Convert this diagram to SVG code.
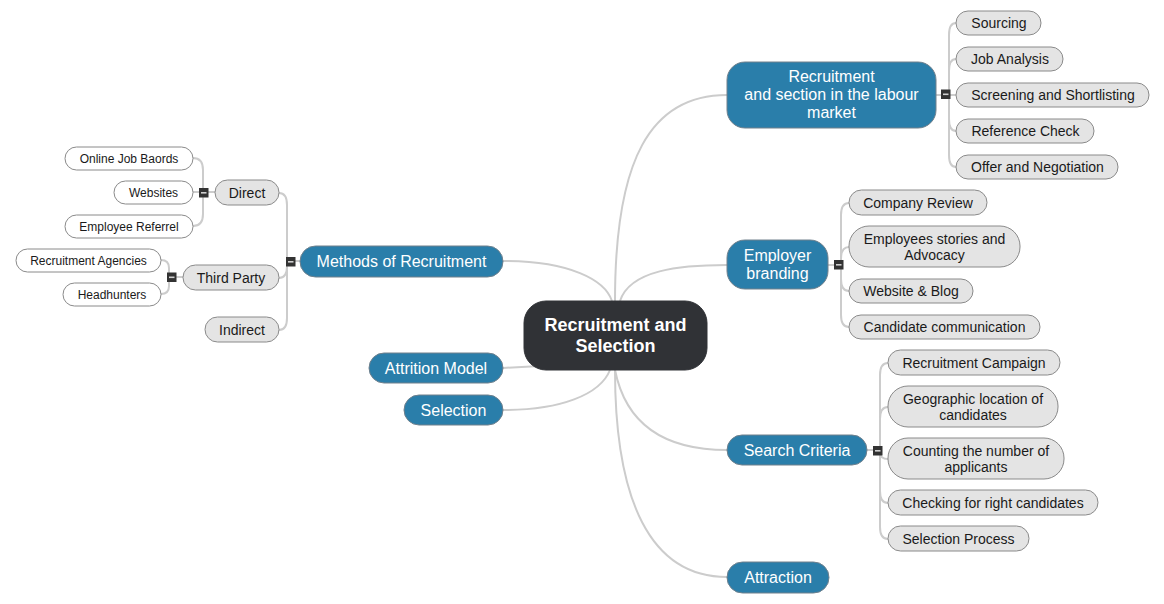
<svg xmlns="http://www.w3.org/2000/svg" width="1164" height="604" viewBox="0 0 1164 604">
<style>
.c{fill:none;stroke:#cccccc;stroke-width:2}
.root rect{fill:#303236;stroke:#303236}
.root text{fill:#fff;font:bold 18px "Liberation Sans",Arial,sans-serif;text-anchor:middle}
.main rect{fill:#2a7eaa;stroke:#70808c;stroke-width:1}
.main text{fill:#fff;font:16px "Liberation Sans",Arial,sans-serif;text-anchor:middle}
.sub rect{fill:#e4e4e4;stroke:#8a8a8a;stroke-width:1}
.sub text{fill:#1a1a1a;font:14px "Liberation Sans",Arial,sans-serif;text-anchor:middle}
.leaf rect{fill:#fff;stroke:#8a8a8a;stroke-width:1}
.leaf text{fill:#1a1a1a;font:12px "Liberation Sans",Arial,sans-serif;text-anchor:middle}
.tog rect.b{fill:#333}
.tog rect.m{fill:#d0d0d0}
</style>
<rect width="1164" height="604" fill="#fff"/>
<g id="connectors">
<path class="c" d="M615 301 C615 160 650 95 727 95"/>
<path class="c" d="M620 301 C630 270 680 265 727 265"/>
<path class="c" d="M503 261 C570 261 605 280 612 301"/>
<path class="c" d="M503 368 L540 366"/>
<path class="c" d="M503 410 C560 410 600 395 610 370"/>
<path class="c" d="M615 370 C625 420 660 450 727 450"/>
<path class="c" d="M615 370 C615 500 650 577 727 577"/>
<path class="c" d="M936 95 L949 95"/>
<path class="c" d="M949 95 L949 35 Q949 23 956 23"/>
<path class="c" d="M949 95 L949 71 Q949 59 956 59"/>
<path class="c" d="M949 95 L956 95"/>
<path class="c" d="M949 95 L949 119 Q949 131 956 131"/>
<path class="c" d="M949 95 L949 155 Q949 167 956 167"/>
<path class="c" d="M828 265 L841 265"/>
<path class="c" d="M841 265 L841 215 Q841 203 849 203"/>
<path class="c" d="M841 265 L841 259 Q841 247 849 247"/>
<path class="c" d="M841 265 L841 279 Q841 291 849 291"/>
<path class="c" d="M841 265 L841 315 Q841 327 849 327"/>
<path class="c" d="M867 450 L880 450"/>
<path class="c" d="M880 450 L880 375 Q880 363 888 363"/>
<path class="c" d="M880 450 L880 419 Q880 407 888 407"/>
<path class="c" d="M880 450 L880 452 Q880 459 888 459"/>
<path class="c" d="M880 450 L880 491 Q880 503 888 503"/>
<path class="c" d="M880 450 L880 527 Q880 539 888 539"/>
<path class="c" d="M300 261 L287 261"/>
<path class="c" d="M287 261 L287 205 Q287 193 279 193"/>
<path class="c" d="M287 261 L287 266 Q287 278 279 278"/>
<path class="c" d="M287 261 L287 318 Q287 330 279 330"/>
<path class="c" d="M215 192 L203 192"/>
<path class="c" d="M203 192 L203 170 Q203 158 193 158"/>
<path class="c" d="M203 192 L193 192"/>
<path class="c" d="M203 192 L203 214 Q203 226 193 226"/>
<path class="c" d="M183 277 L169 277"/>
<path class="c" d="M169 277 L169 268 Q169 260 161 260"/>
<path class="c" d="M169 277 L169 286 Q169 294 161 294"/>
</g>
<g id="toggles" class="tog">
<rect class="b" x="941" y="89.5" width="9.5" height="9.5"/><rect class="m" x="943" y="93.5" width="5.5" height="1.6"/>
<rect class="b" x="834" y="260" width="9.5" height="9.5"/><rect class="m" x="836" y="264" width="5.5" height="1.6"/>
<rect class="b" x="873" y="446" width="9.5" height="9.5"/><rect class="m" x="875" y="450" width="5.5" height="1.6"/>
<rect class="b" x="286" y="257" width="9.5" height="9.5"/><rect class="m" x="288" y="261" width="5.5" height="1.6"/>
<rect class="b" x="199" y="188" width="9.5" height="9.5"/><rect class="m" x="201" y="192" width="5.5" height="1.6"/>
<rect class="b" x="167" y="272.5" width="9.5" height="9.5"/><rect class="m" x="169" y="276.5" width="5.5" height="1.6"/>
</g>
<g id="root" class="root"><rect x="524" y="301" width="183" height="69" rx="22"/><text x="615.5" y="331">Recruitment and</text><text x="615.5" y="352">Selection</text></g>
<g id="rslm" class="main"><rect x="727" y="62" width="209" height="66" rx="18"/><text x="831.5" y="81.5">Recruitment</text><text x="831.5" y="99.5">and section in the labour</text><text x="831.5" y="117.5">market</text></g>
<g id="eb" class="main"><rect x="727" y="240" width="101" height="49" rx="18"/><text x="777.5" y="260.5">Employer</text><text x="777.5" y="278.5">branding</text></g>
<g id="sc" class="main"><rect x="727" y="435" width="140" height="30" rx="15"/><text x="797" y="455.5">Search Criteria</text></g>
<g id="attraction" class="main"><rect x="727" y="562" width="102" height="31" rx="15.5"/><text x="778" y="583">Attraction</text></g>
<g id="methods" class="main"><rect x="300" y="246" width="203" height="31" rx="15.5"/><text x="401.5" y="267">Methods of Recruitment</text></g>
<g id="attrition" class="main"><rect x="369" y="353" width="134" height="30" rx="15"/><text x="436" y="374">Attrition Model</text></g>
<g id="selection" class="main"><rect x="404" y="395" width="99" height="30" rx="15"/><text x="453.5" y="416">Selection</text></g>
<g id="sourcing" class="sub"><rect x="956" y="11" width="85" height="24" rx="12"/><text x="999" y="28">Sourcing</text></g>
<g id="jobanalysis" class="sub"><rect x="956" y="47" width="107" height="24" rx="12"/><text x="1010" y="64">Job Analysis</text></g>
<g id="screening" class="sub"><rect x="956" y="83" width="193" height="24" rx="12"/><text x="1053" y="100">Screening and Shortlisting</text></g>
<g id="reference" class="sub"><rect x="956" y="119" width="138" height="24" rx="12"/><text x="1025.5" y="136">Reference Check</text></g>
<g id="offer" class="sub"><rect x="956" y="155" width="162" height="24" rx="12"/><text x="1037.5" y="172">Offer and Negotiation</text></g>
<g id="companyreview" class="sub"><rect x="849" y="190" width="138" height="25" rx="12.5"/><text x="918" y="208">Company Review</text></g>
<g id="stories" class="sub"><rect x="849" y="226" width="171" height="41" rx="20"/><text x="934.5" y="244">Employees stories and</text><text x="934.5" y="260">Advocacy</text></g>
<g id="website" class="sub"><rect x="849" y="279" width="124" height="24" rx="12"/><text x="911" y="296">Website &amp; Blog</text></g>
<g id="candcomm" class="sub"><rect x="849" y="315" width="191" height="24" rx="12"/><text x="944.5" y="332">Candidate communication</text></g>
<g id="campaign" class="sub"><rect x="888" y="350" width="172" height="25" rx="12.5"/><text x="974" y="368">Recruitment Campaign</text></g>
<g id="geo" class="sub"><rect x="888" y="386" width="170" height="41" rx="20"/><text x="973" y="404">Geographic location of</text><text x="973" y="420">candidates</text></g>
<g id="counting" class="sub"><rect x="888" y="438" width="176" height="41" rx="20"/><text x="976" y="456">Counting the number of</text><text x="976" y="472">applicants</text></g>
<g id="checking" class="sub"><rect x="888" y="490" width="210" height="25" rx="12.5"/><text x="993" y="508">Checking for right candidates</text></g>
<g id="selprocess" class="sub"><rect x="888" y="526" width="141" height="25" rx="12.5"/><text x="958.5" y="544">Selection Process</text></g>
<g id="direct" class="sub"><rect x="215" y="180" width="64" height="25" rx="12.5"/><text x="247" y="198">Direct</text></g>
<g id="thirdparty" class="sub"><rect x="183" y="265" width="96" height="25" rx="12.5"/><text x="231" y="283">Third Party</text></g>
<g id="indirect" class="sub"><rect x="205" y="317" width="74" height="25" rx="12.5"/><text x="242" y="335">Indirect</text></g>
<g id="onlinejob" class="leaf"><rect x="65" y="147" width="128" height="23" rx="11.5"/><text x="129" y="163">Online Job Baords</text></g>
<g id="websites" class="leaf"><rect x="114" y="181" width="79" height="23" rx="11.5"/><text x="153.5" y="197">Websites</text></g>
<g id="referrel" class="leaf"><rect x="65" y="215" width="128" height="23" rx="11.5"/><text x="129" y="231">Employee Referrel</text></g>
<g id="agencies" class="leaf"><rect x="16" y="249" width="145" height="23" rx="11.5"/><text x="88.5" y="265">Recruitment Agencies</text></g>
<g id="headhunters" class="leaf"><rect x="63" y="283" width="98" height="23" rx="11.5"/><text x="112" y="299">Headhunters</text></g>
</svg>
